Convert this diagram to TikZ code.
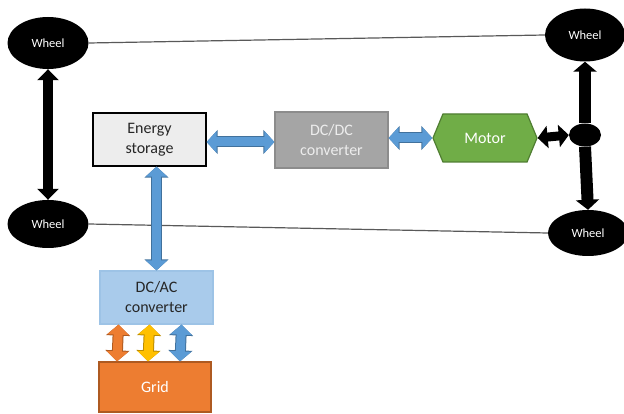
\documentclass[tikz,border=0pt]{standalone}
\usepackage{fontspec}
\setmainfont{Carlito}
\usetikzlibrary{arrows.meta}
\usetikzlibrary{shapes.geometric}
\usetikzlibrary{shapes.symbols}

\definecolor{storagefill}{HTML}{EDEDED}
\definecolor{dcdcfill}{HTML}{A5A5A5}
\definecolor{dcdcline}{HTML}{8C8C8C}
\definecolor{dcdctext}{HTML}{EDEDED}
\definecolor{motorfill}{HTML}{70AD47}
\definecolor{motorline}{HTML}{507E32}
\definecolor{dcacfill}{HTML}{A9CBEB}
\definecolor{dcacline}{HTML}{9DC3E6}
\definecolor{gridfill}{HTML}{ED7D31}
\definecolor{gridline}{HTML}{AE5A21}
\definecolor{flowblue}{HTML}{5B9BD5}
\definecolor{flowblueline}{HTML}{41719C}
\definecolor{flowgold}{HTML}{FFC000}
\definecolor{flowgoldline}{HTML}{BC8C00}
\definecolor{darktext}{HTML}{262626}
\definecolor{axlegray}{HTML}{595959}

\begin{document}
\begin{tikzpicture}[x=1pt,y=-1pt,
    wheel/.style={ellipse,fill=black,text=white,inner sep=0pt,
      font=\fontsize{12.5}{14}\selectfont},
    unit/.style={rectangle,line width=1.2pt,minimum width=113pt,
      minimum height=53pt,align=center,inner sep=0pt,
      font=\fontsize{16}{20}\selectfont},
    axle/.style={draw=axlegray,line width=1.2pt},
    shaft/.style={draw=black,line width=10pt},
    flow/.style 2 args={draw=#1,line width=9pt,
      {Triangle[length=10pt,width=21pt]}-{Triangle[length=10pt,width=21pt]},
      preaction={draw=#2,line width=11pt,
        {Triangle[length=11pt,width=23.5pt]}-{Triangle[length=11pt,width=23.5pt]}}}]
            \useasboundingbox (0,0) rectangle (624,414);

            % Place the wheels
            \node[wheel,minimum width=81pt,minimum height=52pt] (w1) at (48,43) {Wheel};
            \node[wheel,minimum width=81pt,minimum height=48pt] (w2) at (48,224) {Wheel};
            \node[wheel,minimum width=80pt,minimum height=53pt] (w3) at (585,35) {Wheel};
            \node[wheel,minimum width=80pt,minimum height=46pt] (w4) at (588,233) {Wheel};
            \node[ellipse,fill=black,minimum width=32pt,minimum height=23pt,inner sep=0pt] (hub) at (585,135) {};

            % Place the blocks
            \node[unit,draw=black,fill=storagefill,text=darktext] (es) at (149.5,139.5) {Energy\\storage};
            \node[unit,draw=dcdcline,fill=dcdcfill,text=dcdctext,minimum height=56pt] (dcdc) at (331.5,140) {DC/DC\\converter};
            \node[signal,signal to=east and west,signal pointer angle=135,draw=motorline,fill=motorfill,
              line width=1.2pt,text=white,minimum width=104pt,minimum height=48pt,inner sep=0pt,
              font=\fontsize{16}{20}\selectfont] (m) at (485,138) {Motor};
            \node[unit,draw=dcacline,fill=dcacfill,text=darktext] (dcac) at (156.5,297.5) {DC/AC\\converter};
            \node[unit,draw=gridline,fill=gridfill,text=white,minimum width=112pt,minimum height=50pt] (grid) at (155,387) {Grid};

            % The lines!
            \draw[axle] (w1.east) -- (w3.west);
            \draw[axle] (w2.east) -- (w4.west);

            % The arrows
            \draw[shaft,{Triangle[length=11pt,width=21pt]}-{Triangle[length=11pt,width=21pt]}] (w1.south) -- (w2.north);
            \draw[shaft,line width=9pt,{Triangle[length=10pt,width=22pt]}-{Triangle[length=10pt,width=22pt]}] (m.east) -- (hub.west);
            \draw[shaft,line width=12pt,-{Triangle[length=10pt,width=23pt]}] (hub.north) -- (w3.south);
            \draw[shaft,line width=12pt,-{Triangle[length=10pt,width=23pt]}] (hub.south) -- (w4.north);
            \draw[flow={flowblue}{flowblueline}] (es.east |- 0,142) -- (dcdc.west |- 0,142);
            \draw[flow={flowblue}{flowblueline}] (dcdc.east |- m.west) -- (m.west);
            \draw[flow={flowblue}{flowblueline}] (dcac.north |- es.south) -- (dcac.north);
            \draw[flow={gridfill}{gridline}] ([xshift=-38pt]dcac.south) -- ([xshift=-38pt]grid.north);
            \draw[flow={flowgold}{flowgoldline}] ([xshift=-7pt]dcac.south) -- ([xshift=-7pt]grid.north);
            \draw[flow={flowblue}{flowblueline}] ([xshift=25pt]dcac.south) -- ([xshift=25pt]grid.north);
        \end{tikzpicture}
\end{document}
